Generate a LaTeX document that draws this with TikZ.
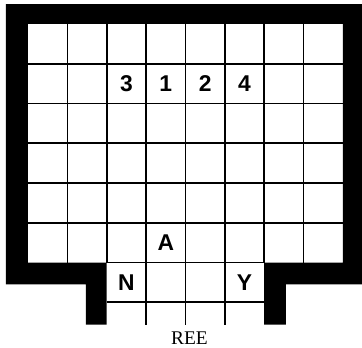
\documentclass[tikz,border=0pt]{standalone}
\usepackage{fontspec}
\setmainfont{Liberation Serif}
\setsansfont{Liberation Sans}
\begin{document}
\begin{tikzpicture}
[x = {(1cm,0cm)},
y = {(0cm,1.01cm)},
gridline/.style = {line width=1.25pt, color=black},
wall/.style = {fill=black, draw=none},
piece/.style = {font=\sffamily\bfseries\fontsize{16.5}{19}\selectfont},
caption/.style = {font=\fontsize{14}{16}\selectfont}]
\useasboundingbox (-0.711,-2.134) rectangle (8.483,6.603);

\fill[wall] (-0.56,6.5) -- (8.483,6.5) -- (8.483,-0.55) -- (6.55,-0.55) -- (6.55,-1.56) -- (6,-1.56) -- (6,0) -- (8,0) -- (8,6) -- (0,6) -- (0,0) -- (2,0) -- (2,-1.56) -- (1.47,-1.56) -- (1.47,-0.55) -- (-0.56,-0.55) -- cycle;

\draw[gridline] (1,0) -- (1,6);
\draw[gridline] (2,0) -- (2,6);
\draw[gridline] (3,-1.56) -- (3,6);
\draw[gridline] (4,-1.56) -- (4,6);
\draw[gridline] (5,-1.56) -- (5,6);
\draw[gridline] (6,0) -- (6,6);
\draw[gridline] (7,0) -- (7,6);
\draw[gridline] (0,1) -- (8,1);
\draw[gridline] (0,2) -- (8,2);
\draw[gridline] (0,3) -- (8,3);
\draw[gridline] (0,4) -- (8,4);
\draw[gridline] (0,5) -- (8,5);
\draw[gridline] (2,0) -- (6,0);
\draw[gridline] (2,-1) -- (6,-1);

\node[piece] (three) at (2.5,4.5) {3};
\node[piece] (one) at (3.5,4.5) {1};
\node[piece] (two) at (4.5,4.5) {2};
\node[piece] (four) at (5.5,4.5) {4};
\node[piece] (letA) at (3.5,0.5) {A};
\node[piece] (letN) at (2.5,-0.5) {N};
\node[piece] (letY) at (5.5,-0.5) {Y};

\node[caption] (ree) at (4.1,-1.91) {REE};
\end{tikzpicture}
\end{document}
